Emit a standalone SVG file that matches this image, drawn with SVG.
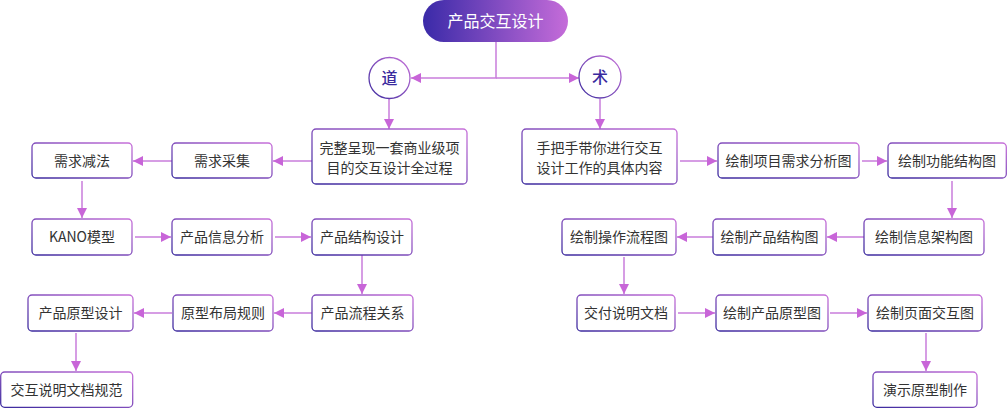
<svg xmlns="http://www.w3.org/2000/svg" width="1007" height="408" viewBox="0 0 1007 408">
<defs>
<linearGradient id="pill" x1="0" y1="0" x2="1" y2="0">
<stop offset="0" stop-color="#3a2aa8"/>
<stop offset="1" stop-color="#c56cd9"/>
</linearGradient>
<linearGradient id="bd" x1="0" y1="1" x2="1" y2="0">
<stop offset="0" stop-color="#3b2a9e"/>
<stop offset="1" stop-color="#c872da"/>
</linearGradient>
<marker id="ah" markerUnits="userSpaceOnUse" markerWidth="10" markerHeight="10" refX="10" refY="5" orient="auto">
<path d="M0,0 L10,5 L0,10 z" fill="#c865d8"/>
</marker>
<style>
.box{fill:#fff;stroke:url(#bd);stroke-width:1.3}
.t{font-family:"Noto Sans CJK SC","Noto Sans",sans-serif;font-size:14px;fill:#333;text-anchor:middle}
.c{font-family:"Noto Sans CJK SC","Noto Sans",sans-serif;font-size:16px;fill:#3a2a9e;text-anchor:middle;font-weight:500}
.ln{fill:none;stroke:#c97ddb;stroke-width:1.5;marker-end:url(#ah)}
</style>
</defs>
<g id="connectors">
<path class="ln" d="M496,42 V78 H411"/>
<path class="ln" d="M496,78 H579"/>
<path class="ln" d="M389,99 V129"/>
<path class="ln" d="M600,99 V129"/>
<path class="ln" d="M312,161 H273"/>
<path class="ln" d="M172,161 H133"/>
<path class="ln" d="M82,181 V218"/>
<path class="ln" d="M135,237 H171"/>
<path class="ln" d="M275,237 H311"/>
<path class="ln" d="M362,255 V294"/>
<path class="ln" d="M312,313 H274"/>
<path class="ln" d="M172,313 H134"/>
<path class="ln" d="M76,333 V371"/>
<path class="ln" d="M680,161 H717"/>
<path class="ln" d="M862,161 H887"/>
<path class="ln" d="M952,181 V218"/>
<path class="ln" d="M864,237 H827"/>
<path class="ln" d="M713,237 H677"/>
<path class="ln" d="M624,257 V294"/>
<path class="ln" d="M678,313 H715"/>
<path class="ln" d="M830,313 H867"/>
<path class="ln" d="M926,333 V371"/>
</g>
<g id="root">
<rect x="423" y="0" width="145" height="42" rx="21" fill="url(#pill)"/>
<text x="495.5" y="26.5" class="t" style="fill:#fff;font-size:16px">产品交互设计</text>
</g>
<g id="dao">
<circle cx="389.5" cy="78" r="20.5" class="box"/>
<text x="389.5" y="84" class="c">道</text>
</g>
<g id="shu">
<circle cx="600" cy="77" r="21" class="box"/>
<text x="600" y="83" class="c">术</text>
</g>
<g id="n1"><rect class="box" x="312" y="129" width="155" height="55" rx="4"/><text class="t" x="389.5" y="153">完整呈现一套商业级项</text><text class="t" x="389.5" y="173">目的交互设计全过程</text></g>
<g id="n2"><rect class="box" x="172" y="143" width="100" height="35" rx="4"/><text class="t" x="222" y="165.5">需求采集</text></g>
<g id="n3"><rect class="box" x="32" y="143" width="100" height="35" rx="4"/><text class="t" x="82" y="165.5">需求减法</text></g>
<g id="n4"><rect class="box" x="32" y="219" width="100" height="36" rx="4"/><text class="t" x="82" y="242">KANO模型</text></g>
<g id="n5"><rect class="box" x="172" y="219" width="100" height="36" rx="4"/><text class="t" x="222" y="242">产品信息分析</text></g>
<g id="n6"><rect class="box" x="312" y="219" width="100" height="36" rx="4"/><text class="t" x="362" y="242">产品结构设计</text></g>
<g id="n7"><rect class="box" x="312" y="295" width="101" height="36" rx="4"/><text class="t" x="362.5" y="318">产品流程关系</text></g>
<g id="n8"><rect class="box" x="173" y="295" width="100" height="36" rx="4"/><text class="t" x="223" y="318">原型布局规则</text></g>
<g id="n9"><rect class="box" x="28" y="295" width="105" height="36" rx="4"/><text class="t" x="80.5" y="318">产品原型设计</text></g>
<g id="n10"><rect class="box" x="0.7" y="372" width="132" height="35.3" rx="4"/><text class="t" x="66.5" y="395">交互说明文档规范</text></g>
<g id="m1"><rect class="box" x="522" y="129" width="155" height="55" rx="4"/><text class="t" x="599.5" y="153">手把手带你进行交互</text><text class="t" x="599.5" y="173">设计工作的具体内容</text></g>
<g id="m2"><rect class="box" x="718" y="143" width="141" height="35" rx="4"/><text class="t" x="788.5" y="165.5">绘制项目需求分析图</text></g>
<g id="m3"><rect class="box" x="888" y="143" width="118.3" height="35" rx="4"/><text class="t" x="947" y="165.5">绘制功能结构图</text></g>
<g id="m4"><rect class="box" x="864" y="219" width="120" height="36" rx="4"/><text class="t" x="924" y="242">绘制信息架构图</text></g>
<g id="m5"><rect class="box" x="713" y="219" width="113" height="36" rx="4"/><text class="t" x="769.5" y="242">绘制产品结构图</text></g>
<g id="m6"><rect class="box" x="562" y="219" width="114" height="36" rx="4"/><text class="t" x="619" y="242">绘制操作流程图</text></g>
<g id="m7"><rect class="box" x="577" y="295" width="98" height="36" rx="4"/><text class="t" x="626" y="318">交付说明文档</text></g>
<g id="m8"><rect class="box" x="716" y="295" width="112" height="36" rx="4"/><text class="t" x="772" y="318">绘制产品原型图</text></g>
<g id="m9"><rect class="box" x="868" y="295" width="114" height="36" rx="4"/><text class="t" x="925" y="318">绘制页面交互图</text></g>
<g id="m10"><rect class="box" x="873" y="372" width="104" height="35.3" rx="4"/><text class="t" x="925" y="395">演示原型制作</text></g>
</svg>
